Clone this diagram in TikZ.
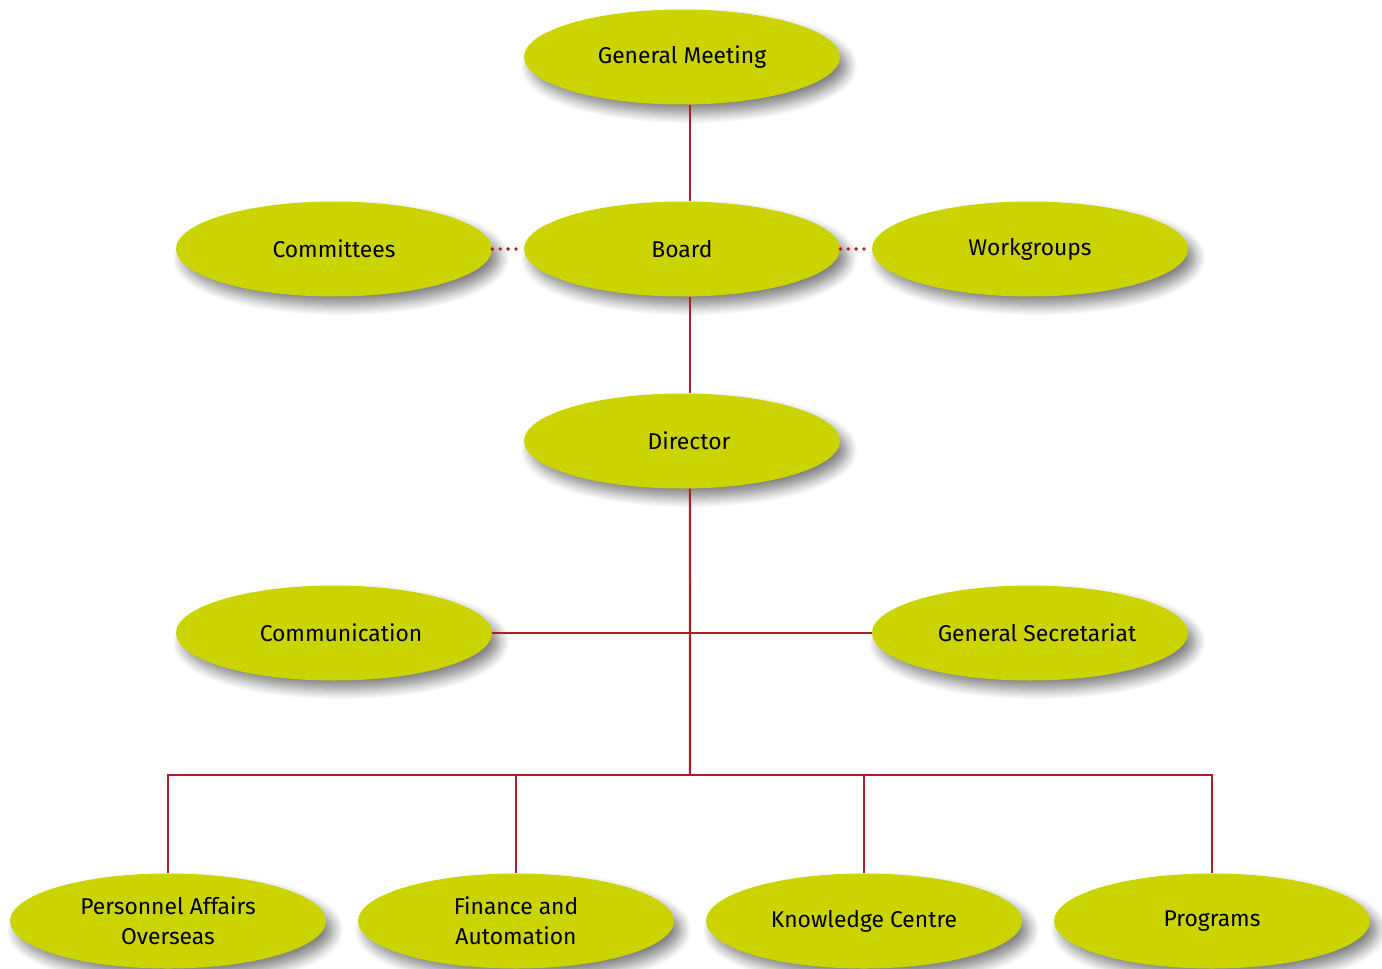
\documentclass[tikz,border=0pt]{standalone}
\usepackage{fontspec}
\setmainfont{Fira Sans}
\usetikzlibrary{shapes.geometric,shadows.blur}
\definecolor{unitfill}{RGB}{204,212,0}
\definecolor{linkred}{RGB}{178,28,36}
\tikzset{
    unit/.style={ellipse, fill=unitfill, minimum width=6.32cm, minimum height=1.9cm,
        inner sep=0pt, align=center, font=\fontsize{13}{17}\selectfont,
        blur shadow={shadow xshift=4pt, shadow yshift=-5pt, shadow blur radius=6pt,
            shadow blur steps=10, shadow opacity=50}},
    link/.style={draw=linkred, line width=1.2pt},
    dots/.style={draw=linkred, line width=2.2pt, dash pattern=on 0pt off 4.5pt, line cap=round}
}
\begin{document}
\begin{tikzpicture}[x=0.02cm, y=-0.02cm]
    \useasboundingbox (0,0) rectangle (1382,968);

        \node[unit] (gm) at (682,57) {General Meeting};

        \node[unit] (cttee) at (334,249) {Committees};
        \node[unit] (board) at (682,249) {Board};
        \node[unit] (wgrp) at (1030,249) {Workgroups};

        \node[unit] (dir) at (682,441) {\hspace*{8pt}Director};

        \node[unit] (comm) at (334,633) {\hspace*{8pt}Communication};
        \node[unit] (secr) at (1030,633) {\hspace*{8pt}General Secretariat};

        \node[unit] (pers) at (168,921) {Personnel Affairs\\Overseas};
        \node[unit] (fin) at (516,921) {Finance and\\Automation};
        \node[unit] (know) at (864,921) {Knowledge Centre};
        \node[unit] (prog) at (1212,921) {Programs};

        \coordinate (hub) at (690,775);

        \draw[link] ([xshift=4.5pt]gm.south) to ([xshift=4.5pt]board.north);
        \draw[link] ([xshift=4.5pt]board.south) to ([xshift=4.5pt]dir.north);
        \draw[link] ([xshift=4.5pt]dir.south) to (hub);

        \draw[dots] (cttee.east) to (board.west);
        \draw[dots] (board.east) to (wgrp.west);

        \draw[link] (comm.east) to (secr.west);

        \draw[link] (pers.north) -- (pers.north |- hub) -- (prog.north |- hub) -- (prog.north);
        \draw[link] (fin.north) to (fin.north |- hub);
        \draw[link] (know.north) to (know.north |- hub);
\end{tikzpicture}
\end{document}
